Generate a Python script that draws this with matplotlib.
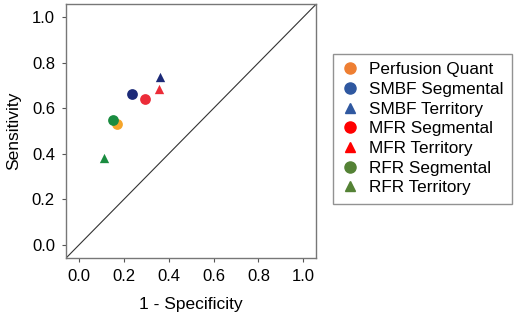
import matplotlib.pyplot as plt
from matplotlib.lines import Line2D

plt.rcParams['font.family'] = ['Liberation Sans', 'DejaVu Sans']

# (1 - specificity, sensitivity) per method
labels = ["Perfusion Quant", "SMBF Segmental", "SMBF Territory",
          "MFR Segmental", "MFR Territory", "RFR Segmental", "RFR Territory"]
fpr = [0.170, 0.236, 0.363, 0.293, 0.357, 0.154, 0.113]
sens = [0.532, 0.662, 0.738, 0.639, 0.684, 0.547, 0.383]
markers = ["o", "o", "^", "o", "^", "o", "^"]
point_colors = ["#F5A52A", "#1C2A78", "#1C2A78", "#EC2C38", "#EC2C38", "#1A8C40", "#1A8C40"]
legend_colors = ["#EE7F33", "#2F58A0", "#2F58A0", "#FF0000", "#FF0000", "#548235", "#548235"]

fig = plt.figure(figsize=(5.2, 3.19), dpi=100)
ax = fig.add_axes([0.127, 0.191, 0.481, 0.796])

lo, hi = -0.057, 1.057
ax.plot([lo, hi], [lo, hi], color="#333333", lw=0.8, zorder=1)

# orange first so green sits on top of it
order = [0, 1, 3, 5, 2, 4, 6]
for i in order:
    size = 60 if markers[i] == "o" else 45
    ax.scatter(fpr[i], sens[i], marker=markers[i], s=size, color=point_colors[i],
               linewidths=0, zorder=3)

ax.set_xlim(lo, hi)
ax.set_ylim(lo, hi)
ticks = [0.0, 0.2, 0.4, 0.6, 0.8, 1.0]
ax.set_xticks(ticks)
ax.set_yticks(ticks)
ax.set_xticklabels([f"{t:.1f}" for t in ticks])
ax.set_yticklabels([f"{t:.1f}" for t in ticks])
ax.tick_params(labelsize=12, length=3, width=0.8, color="#555555", pad=5)
for s in ax.spines.values():
    s.set_color("#777777")
    s.set_linewidth(1.0)
ax.set_xlabel("1 - Specificity", fontsize=12.5, labelpad=9)
ax.set_ylabel("Sensitivity", fontsize=12.5, labelpad=8)

handles = [Line2D([], [], ls="none", marker=m, color=c, markersize=8 if m == "o" else 7.5)
           for m, c in zip(markers, legend_colors)]
leg = fig.legend(handles, labels, loc="upper left", bbox_to_anchor=(0.64, 0.831),
                 fontsize=12.3, frameon=True, fancybox=False, borderpad=0.5,
                 labelspacing=0.27, handlelength=1.0, handletextpad=0.6,
                 borderaxespad=0)
leg.get_frame().set_edgecolor("#777777")
leg.get_frame().set_linewidth(1.0)

fig.savefig("out.png", dpi=100)
